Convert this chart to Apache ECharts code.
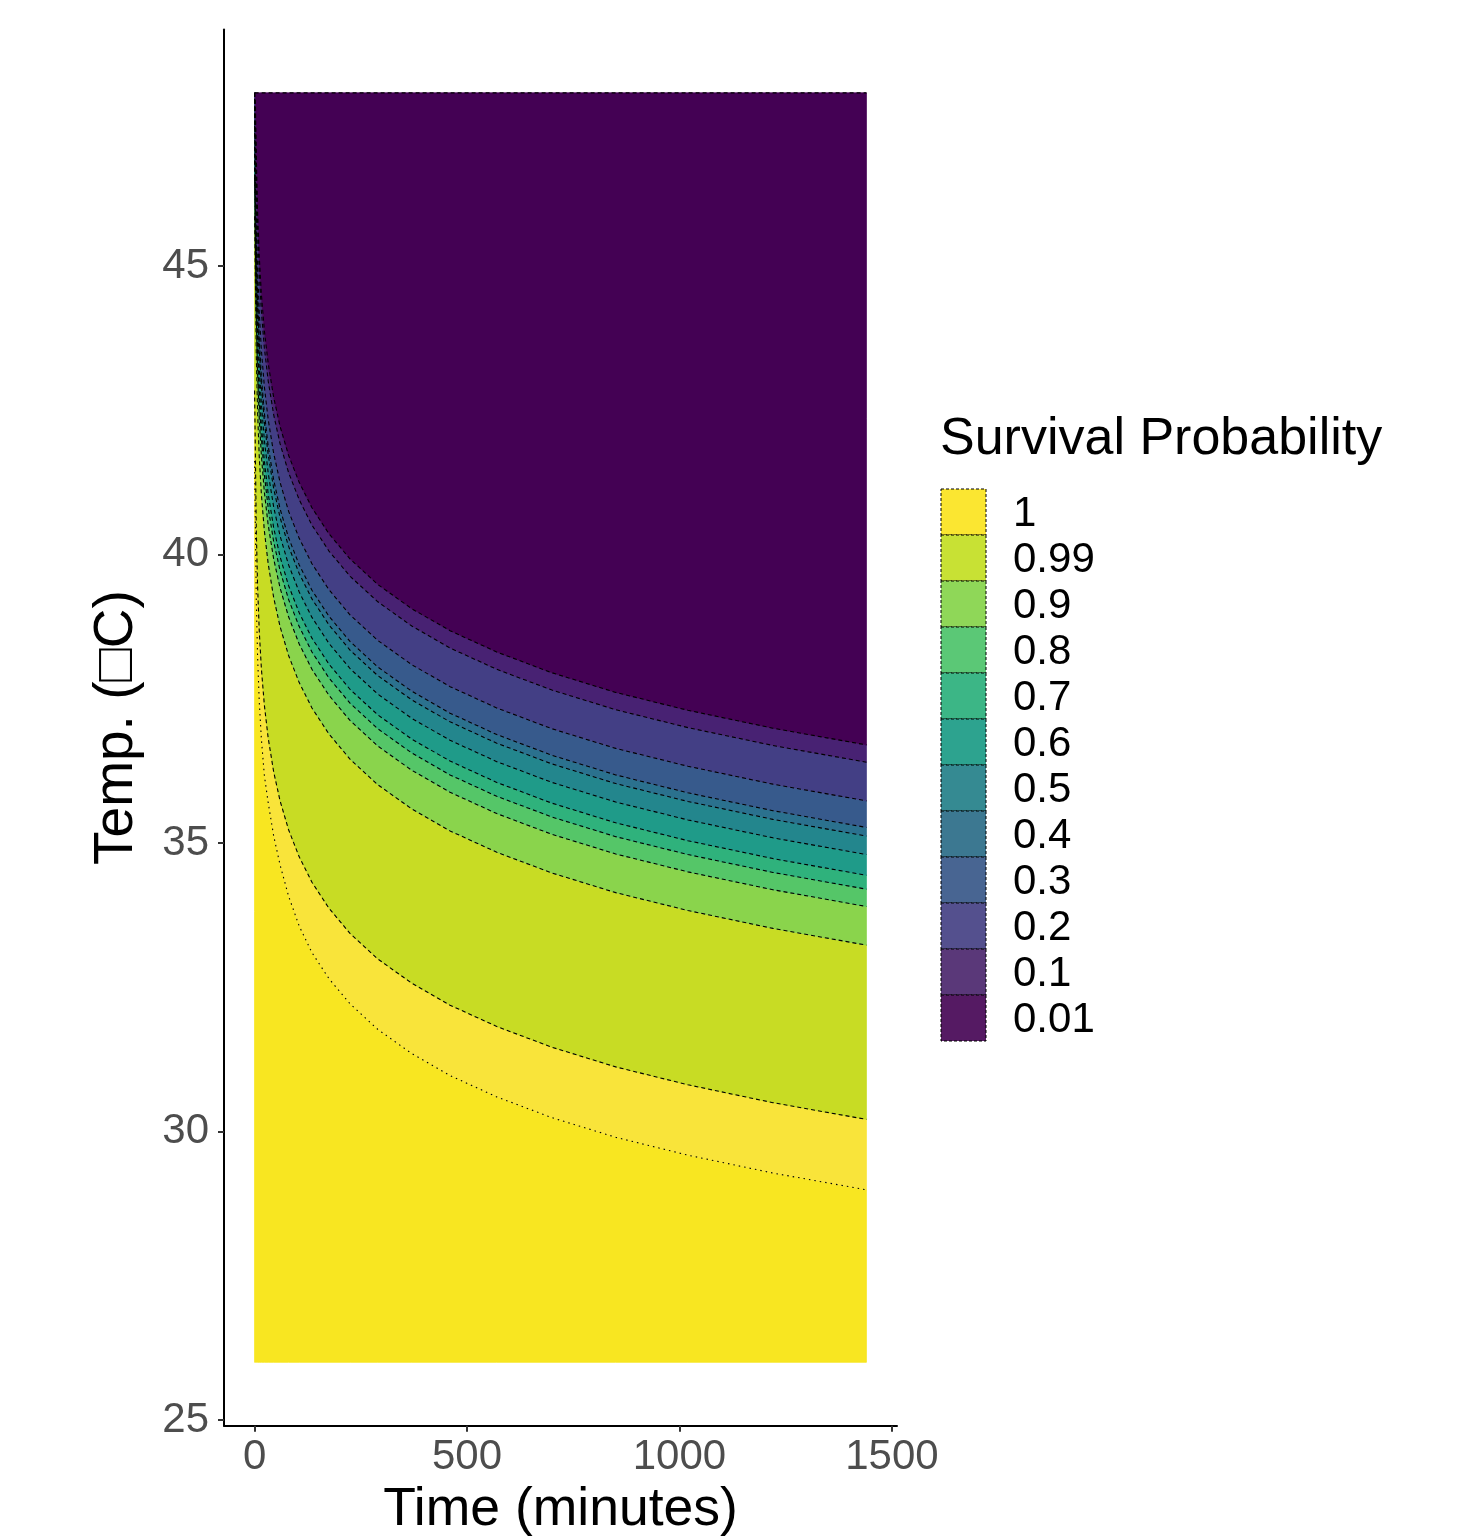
<!DOCTYPE html>
<html>
<head>
<meta charset="utf-8">
<title>Survival Probability</title>
<script src="https://cdn.jsdelivr.net/npm/echarts@6/dist/echarts.min.js"></script>
<style>
  html, body { margin: 0; padding: 0; background: #fff; }
  #main { width: 1461px; height: 1537px; }
</style>
</head>
<body>
<div id="main"></div>
<script>
// time grid (minutes)
var times = [0, 2, 4, 7, 11, 16, 23, 32, 45, 60, 80, 105, 135, 175, 225, 290, 370, 460, 570, 700, 850, 1020, 1220, 1440];
var tempMin = 26, tempMax = 48;

// contour lines (temperature at each time), from the lowest to the highest
var line1  = [41.62, 40.42, 39.21, 38.24, 37.45, 36.80, 36.17, 35.70, 35.12, 34.62, 34.08, 33.56, 33.10, 32.65, 32.21, 31.77, 31.35, 30.97, 30.60, 30.24, 29.90, 29.59, 29.28, 28.99];
var line2  = [42.84, 41.64, 40.43, 39.46, 38.67, 38.02, 37.39, 36.82, 36.23, 35.73, 35.23, 34.76, 34.32, 33.87, 33.43, 32.99, 32.57, 32.19, 31.82, 31.46, 31.12, 30.81, 30.50, 30.21];
var line3  = [45.86, 44.66, 43.45, 42.48, 41.69, 41.04, 40.41, 39.84, 39.25, 38.75, 38.25, 37.78, 37.34, 36.89, 36.45, 36.01, 35.59, 35.21, 34.84, 34.48, 34.14, 33.83, 33.52, 33.23];
var line4  = [46.53, 45.33, 44.12, 43.15, 42.36, 41.71, 41.08, 40.51, 39.92, 39.42, 38.92, 38.45, 38.01, 37.56, 37.12, 36.68, 36.26, 35.88, 35.51, 35.15, 34.81, 34.50, 34.19, 33.90];
var line5  = [46.83, 45.63, 44.42, 43.45, 42.66, 42.01, 41.38, 40.81, 40.22, 39.72, 39.22, 38.75, 38.31, 37.86, 37.42, 36.98, 36.56, 36.18, 35.81, 35.45, 35.11, 34.80, 34.49, 34.20];
var line6  = [47.07, 45.87, 44.66, 43.69, 42.90, 42.25, 41.62, 41.05, 40.46, 39.96, 39.46, 38.99, 38.55, 38.10, 37.66, 37.22, 36.80, 36.42, 36.05, 35.69, 35.35, 35.04, 34.73, 34.44];
var line7  = [47.43, 46.23, 45.02, 44.05, 43.26, 42.61, 41.98, 41.41, 40.82, 40.32, 39.82, 39.35, 38.91, 38.46, 38.02, 37.58, 37.16, 36.78, 36.41, 36.05, 35.71, 35.40, 35.09, 34.80];
var line8  = [47.75, 46.55, 45.34, 44.37, 43.58, 42.93, 42.30, 41.73, 41.14, 40.64, 40.14, 39.67, 39.23, 38.78, 38.34, 37.90, 37.48, 37.10, 36.73, 36.37, 36.03, 35.72, 35.41, 35.12];
var line9  = [47.90, 46.70, 45.49, 44.52, 43.73, 43.08, 42.45, 41.88, 41.29, 40.79, 40.29, 39.82, 39.38, 38.93, 38.49, 38.05, 37.63, 37.25, 36.88, 36.52, 36.18, 35.87, 35.56, 35.27];
var line10 = [48.00, 47.16, 45.95, 44.98, 44.19, 43.54, 42.91, 42.34, 41.75, 41.25, 40.75, 40.28, 39.84, 39.39, 38.95, 38.51, 38.09, 37.71, 37.34, 36.98, 36.64, 36.33, 36.02, 35.73];
var line11 = [48.00, 47.83, 46.62, 45.65, 44.86, 44.21, 43.58, 43.01, 42.42, 41.92, 41.42, 40.95, 40.51, 40.06, 39.62, 39.18, 38.76, 38.38, 38.01, 37.65, 37.31, 37.00, 36.69, 36.40];
var line12 = [48.00, 48.00, 46.92, 45.95, 45.16, 44.51, 43.88, 43.31, 42.72, 42.22, 41.72, 41.25, 40.81, 40.36, 39.92, 39.48, 39.06, 38.68, 38.31, 37.95, 37.61, 37.30, 36.99, 36.70];

// fill colours of the bands, bottom to top
var bandColors = ['#F8E621', '#F9E43A', '#C8DC24', '#8AD44C', '#55C668', '#2FB27C', '#1F9B89',
                  '#23868D', '#2B718E', '#375A8C', '#433F85', '#482273', '#440154'];

// legend
var legendLabels = ['1', '0.99', '0.9', '0.8', '0.7', '0.6', '0.5', '0.4', '0.3', '0.2', '0.1', '0.01'];
var legendColors = ['#FBE631', '#C8E134', '#8FD758', '#5BC876', '#3CB686', '#2DA38F', '#358A92',
                    '#3C7891', '#486592', '#54508E', '#5A3879', '#551A63'];

var xTicks = [0, 500, 1000, 1500];
var yTicks = [25, 30, 35, 40, 45];

var FONT = '"Liberation Sans", Arial, sans-serif';

var chart = echarts.init(document.getElementById('main'));

var lines = [line1, line2, line3, line4, line5, line6, line7, line8, line9, line10, line11, line12];
var baseEdge = times.map(function () { return tempMin; });
var topEdge = times.map(function () { return tempMax; });
var bounds = [baseEdge].concat(lines, [topEdge]);

/**
 * 每个色带画成一个多边形：下边界正向 + 上边界反向
 */
function renderBand(params, api) {
    var k = api.value(0);
    var lower = bounds[k], upper = bounds[k + 1];
    var pts = [], i;
    for (i = 0; i < times.length; i++) {
        pts.push(api.coord([times[i], lower[i]]));
    }
    for (i = times.length - 1; i >= 0; i--) {
        pts.push(api.coord([times[i], upper[i]]));
    }
    return {
        type: 'polygon',
        shape: { points: pts },
        style: { fill: bandColors[k], stroke: bandColors[k], lineWidth: 0.8 }
    };
}

var series = [{
    type: 'custom',
    silent: true,
    renderItem: renderBand,
    encode: { x: 0, y: 1 },
    data: bandColors.map(function (c, k) { return [k, tempMin]; }),
    z: 1
}];
// contour lines drawn on top
lines.concat([topEdge]).forEach(function (b, k) {
    series.push({
        type: 'line', silent: true, symbol: 'none',
        lineStyle: { color: '#000', width: 1.1, type: k === 0 ? [1.5, 4] : [4, 3] },
        data: times.map(function (t, i) { return [t, b[i]]; }),
        z: 3
    });
});

var graphics = [{
    type: 'text', x: 940, y: 440,
    style: { text: 'Survival Probability', font: '52px ' + FONT, fill: '#000',
             textAlign: 'left', textVerticalAlign: 'middle' }
}];
var boxTop = 489, boxH = 46;
legendLabels.forEach(function (lab, i) {
    graphics.push({
        type: 'rect',
        shape: { x: 941, y: boxTop + i * boxH, width: 45, height: boxH },
        style: { fill: legendColors[i], stroke: '#000', lineWidth: 1, lineDash: [3, 2] }
    });
    graphics.push({
        type: 'text', x: 1013, y: boxTop + i * boxH + boxH / 2 + 2,
        style: { text: lab, font: '42px ' + FONT, fill: '#000',
                 textAlign: 'left', textVerticalAlign: 'middle' }
    });
});

chart.setOption({
    animation: false,
    backgroundColor: '#fff',
    grid: { left: 224, right: 564, top: 29.4, bottom: 111.2, containLabel: false, outerBoundsMode: 'none' },
    xAxis: {
        type: 'value', min: -72, max: 1512,
        name: 'Time (minutes)', nameLocation: 'middle', nameGap: 51,
        nameTextStyle: { fontFamily: FONT, fontSize: 53.5, color: '#000' },
        axisLine: { show: true, onZero: false, lineStyle: { color: '#000', width: 2 } },
        axisTick: { show: true, length: 6, lineStyle: { color: '#333', width: 2 }, customValues: xTicks },
        axisLabel: { customValues: xTicks, fontFamily: FONT, fontSize: 42, color: '#4D4D4D', margin: 11,
                     formatter: function (v) { return String(v); } },
        splitLine: { show: false }
    },
    yAxis: {
        type: 'value', min: 24.9, max: 49.1,
        name: 'Temp. (\u25A1C)', nameLocation: 'middle', nameGap: 80,
        nameTextStyle: { fontFamily: FONT, fontSize: 55, color: '#000' },
        axisLine: { show: true, onZero: false, lineStyle: { color: '#000', width: 2 } },
        axisTick: { show: true, length: 6, lineStyle: { color: '#333', width: 2 }, customValues: yTicks },
        axisLabel: { customValues: yTicks, fontFamily: FONT, fontSize: 42, color: '#4D4D4D', margin: 15,
                     formatter: function (v) { return String(v); } },
        splitLine: { show: false }
    },
    graphic: graphics,
    series: series
});
</script>
</body>
</html>
